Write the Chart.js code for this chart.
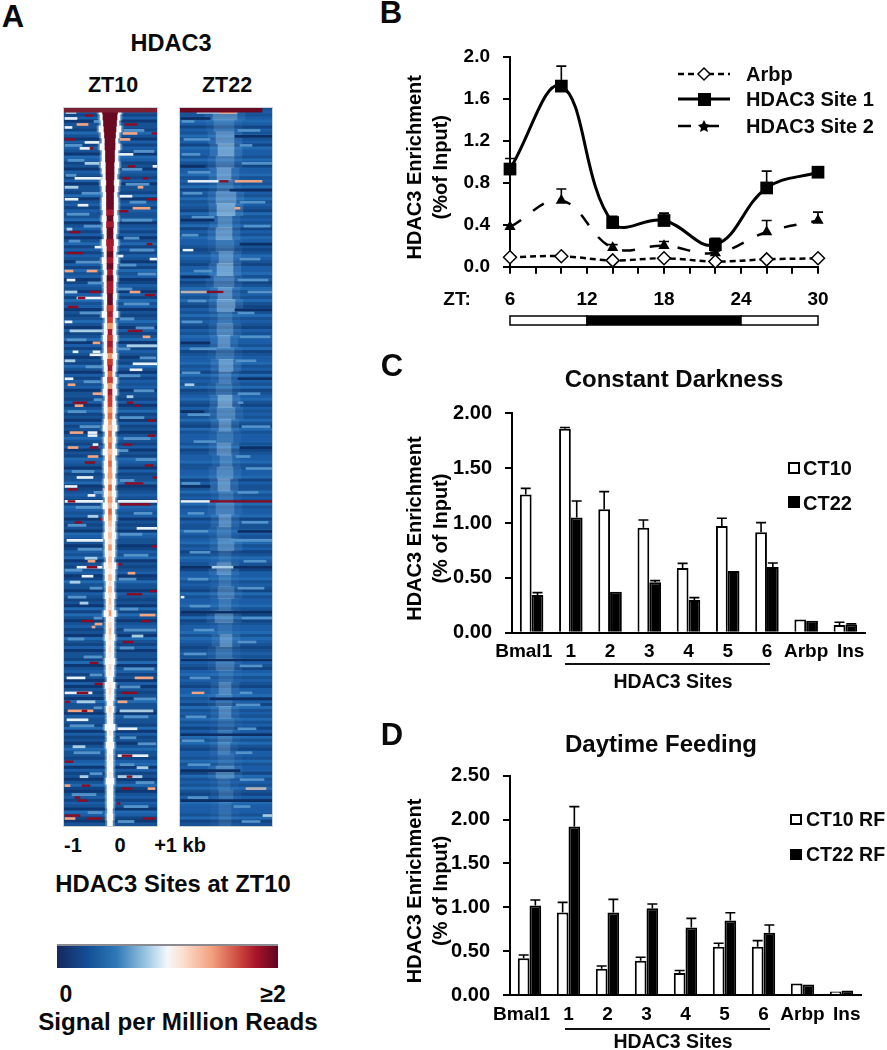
<!DOCTYPE html>
<html><head><meta charset="utf-8">
<script src="https://cdn.jsdelivr.net/npm/chart.js@4"></script>
<style>
html,body{margin:0;padding:0;background:#fff;width:887px;height:1050px;overflow:hidden}
canvas{position:absolute;display:block}
.t{position:absolute;font-family:"Liberation Sans",Arial,sans-serif;font-weight:bold;color:#0a0a0a;white-space:nowrap;transform:translate(-50%,-50%);line-height:1}
.l{transform:translate(0,-50%)}
.box{position:absolute;box-sizing:border-box;border:2px solid #000}
.rule{position:absolute;height:2px;background:#111}
#heatA,#heatB{background:#1c5ea6;filter:blur(.7px);outline:1px solid #ccd2da}
</style></head><body>
<canvas id="heatA" style="left:64px;top:108px"></canvas>
<canvas id="heatB" style="left:180px;top:108px"></canvas>
<canvas id="chartB" style="left:400px;top:30px"></canvas>
<canvas id="chartC" style="left:400px;top:360px"></canvas>
<canvas id="chartD" style="left:400px;top:730px"></canvas>

<div class="t" style="left:13px;top:16px;font-size:31px">A</div>
<div class="t" style="left:391px;top:12px;font-size:31px">B</div>
<div class="t" style="left:392px;top:365px;font-size:31px">C</div>
<div class="t" style="left:392px;top:734px;font-size:31px">D</div>
<div class="t" style="left:171px;top:44px;font-size:23.5px">HDAC3</div>
<div class="t" style="left:113px;top:86px;font-size:21.5px">ZT10</div>
<div class="t" style="left:227px;top:86px;font-size:21.5px">ZT22</div>
<div class="t" style="left:73px;top:845px;font-size:20px">-1</div>
<div class="t" style="left:120px;top:845px;font-size:20px">0</div>
<div class="t" style="left:180px;top:845px;font-size:20px">+1 kb</div>
<div class="t" style="left:173px;top:884px;font-size:23.8px">HDAC3 Sites at ZT10</div>
<div style="position:absolute;left:57px;top:944px;width:221px;height:24px;box-sizing:border-box;border-top:2px solid #8a8a90;background:linear-gradient(90deg,#15295f 0%,#134f96 14%,#2f79b7 27%,#a9d0e5 42%,#f4f8fb 50%,#fbdfcf 57%,#f2a17e 70%,#c9433c 83%,#a8152a 90%,#5f0420 100%)"></div>
<div class="t" style="left:66px;top:994px;font-size:23px">0</div>
<div class="t" style="left:273px;top:994px;font-size:23px">≥2</div>
<div class="t" style="left:178px;top:1022px;font-size:24.2px">Signal per Million Reads</div>

<div class="t" style="left:457px;top:298px;font-size:19px">ZT:</div>
<svg style="position:absolute;left:676px;top:60px" width="58" height="80">
  <line x1="2" y1="14" x2="54" y2="14" stroke="#000" stroke-width="2.5" stroke-dasharray="6 4"/>
  <polygon points="28,8 34,14 28,20 22,14" fill="#fff" stroke="#000" stroke-width="1.5"/>
  <line x1="2" y1="39" x2="54" y2="39" stroke="#000" stroke-width="3"/>
  <rect x="22" y="33" width="13" height="13" fill="#000"/>
  <line x1="2" y1="66" x2="54" y2="66" stroke="#000" stroke-width="2.5" stroke-dasharray="13 15"/>
  <polygon points="28,60 30,64 34,65 31,68 32,72 28,70 24,72 25,68 22,65 26,64" fill="#000"/>
</svg>
<div class="t l" style="left:746px;top:74px;font-size:20px">Arbp</div>
<div class="t l" style="left:746px;top:99px;font-size:20px">HDAC3 Site 1</div>
<div class="t l" style="left:746px;top:126px;font-size:20px">HDAC3 Site 2</div>

<div class="t" style="left:674px;top:379px;font-size:24px">Constant Darkness</div>
<div class="box" style="left:788px;top:462px;width:12px;height:12px;background:#fff"></div>
<div class="t l" style="left:803px;top:468px;font-size:20px">CT10</div>
<div class="box" style="left:788px;top:496px;width:12px;height:12px;background:#000"></div>
<div class="t l" style="left:803px;top:503px;font-size:20px">CT22</div>
<div class="rule" style="left:565px;top:663px;width:205px"></div>
<div class="t" style="left:673px;top:682px;font-size:19.5px">HDAC3 Sites</div>

<div class="t" style="left:661px;top:744px;font-size:24px">Daytime Feeding</div>
<div class="box" style="left:790px;top:814px;width:12px;height:11px;background:#fff"></div>
<div class="t l" style="left:806px;top:820px;font-size:19.5px">CT10 RF</div>
<div class="box" style="left:790px;top:849px;width:12px;height:11px;background:#000"></div>
<div class="t l" style="left:806px;top:855px;font-size:19.5px">CT22 RF</div>
<div class="rule" style="left:565px;top:1028px;width:205px"></div>
<div class="t" style="left:673px;top:1042px;font-size:19.5px">HDAC3 Sites</div>

<script>
// ---------- Panel B values ----------
const zt = [6, 10, 14, 18, 22, 26, 30];
const arbpB = [0.09, 0.10, 0.06, 0.08, 0.05, 0.07, 0.08];
const site1B = [0.93, 1.72, 0.42, 0.44, 0.21, 0.75, 0.90];
const site1BTop = [1.03, 1.91, 0.48, 0.51, 0.27, 0.91, 0.95];
const site2B = [0.38, 0.63, 0.18, 0.20, 0.13, 0.33, 0.44];
const site2BTop = [0.38, 0.74, 0.21, 0.24, 0.15, 0.44, 0.52];
const lightDark = [[6, 12, '#fff'], [12, 24, '#000'], [24, 30, '#fff']];

// ---------- Panels C and D values ----------
const categories = ['Bmal1', '1', '2', '3', '4', '5', '6', 'Arbp', 'Ins'];
const ct10 = [1.26, 1.86, 1.125, 0.957, 0.59, 0.973, 0.915, 0.12, 0.07];
const ct10Top = [1.316, 1.87, 1.286, 1.027, 0.632, 1.043, 1.003, 0.12, 0.095];
const ct22 = [0.343, 1.05, 0.374, 0.46, 0.298, 0.562, 0.60, 0.11, 0.075];
const ct22Top = [0.365, 1.20, 0.374, 0.475, 0.32, 0.562, 0.635, 0.11, 0.08];
const ct10rf = [0.42, 0.94, 0.30, 0.39, 0.25, 0.55, 0.55, 0.13, 0.04];
const ct10rfTop = [0.456, 1.056, 0.33, 0.43, 0.28, 0.59, 0.62, 0.13, 0.04];
const ct22rf = [1.02, 1.92, 0.94, 0.99, 0.77, 0.85, 0.71, 0.12, 0.05];
const ct22rfTop = [1.083, 2.147, 1.09, 1.037, 0.874, 0.938, 0.798, 0.12, 0.05];

// ---------- Panel A: heat map read as rows (3 px) and bins (about 1 px) ----------
const zt10Shade = [
'231302214203132043120321','302214023132240231302413','132031423013203142302124','203124031320214203132302',
'213024120312024213021432','031224012320143230212043','220132402123014220321204','142023120421302214023120',
'302120422103221403120242','213403120241023132043102'];
const zt22Shade = [
'232343132423143324213342','324132423214232413243321','243213342312423242132423','213243324123342314232412',
'342132324214233324123342','233413224231423341322432','342312432213342321423342','314123342432123243213423',
'213342314232423132424213','324233142324213243332412'];
const zt10HaloHalf = [11,10,9,11,9,8,10,8,8,9, 8,7,9,8,7,8,8,7,8,7, 7,6,8,7,6,8,7,6,7,6, 6,7,6,6,8,5,6,6,7,6,
  6,7,6,6,5,7,6,7,5,6, 6,5,6,7,5,6,5,7,5,6, 6,5,6,5,6,5,7,5,6,5, 5,6,5,5,5,4,6,5,5,4,
  4,5,4,4,6,4,4,4,5,4, 4,4,5,4,4,3,5,4,4,3, 4,3,3,5,3,3,4,3,3,3, 3,3,4,3,3,3,3,2.5,3,2.5];
const zt10CoreHalf = [7.5,7,6.5,6,5.5,5,5,4.5,4.5,4, 4,4,3.5,4,3.5,3.5,3.5,3.5,3,3.5, 3,3,3.5,3,3,3,3,2.5,3,3, 3,2.5,2.5,3,2.5,2.5,2.5,2,2.5,2.5,
  2.5,2,2.5,2,2,2.5,2,2,2,2, 2,2,1.5,2,1.5,2,1.5,2,1.5,1.5, 1.5,2,1.5,1.5,1.5,2,1.5,1.5,1.5,1.5, 1.5,1.5,1.5,1.5,1.5,1.5,1.5,1,1.5,1,
  1.5,1,1,1.5,1,1,1.5,1,1,1, 1,1,1,1,1,1,1,1,1,1, 1,1,1,1,1,1,1,1,1,1, 1,1,1,1,1,1,1,1,1,1];
const zt10CoreLevel = '9999999999999999'+'98989988989898899'+'78758787578675877'+'5654656456554645465'+'43435343243434352343'+'2321320232132'+'10201021020100'+'00100000000000';
const zt10Streaks = [
[1,2,12,'p'],[2,21,29,'r'],[3,1,13,'w'],[5,13,24,'o'],[6,1,8,'w'],[5,61,73,'r'],[8,59,73,'o'],[8,36,43,'r'],[8,88,93,'r'],[10,1,11,'r'],[10,56,66,'o'],[11,21,35,'w'],[13,16,26,'w'],[13,26,29,'r'],[15,54,69,'w'],[18,21,35,'p'],[19,64,71,'r'],[19,89,93,'w'],[21,38,43,'o'],[23,11,39,'w'],[23,59,66,'r'],[23,79,84,'r'],[26,1,14,'p'],[26,74,79,'o'],[29,56,68,'w'],[30,1,14,'w'],[30,83,93,'r'],[32,14,24,'w'],[33,69,86,'o'],[34,53,64,'r'],[40,3,8,'p'],[41,6,16,'r'],[40,38,41,'o'],[46,31,39,'w'],[45,83,88,'r'],[48,3,19,'r'],[49,53,59,'w'],[50,86,93,'w'],[54,1,9,'o'],[54,23,33,'o'],[57,3,11,'w'],
[61,1,13,'p'],[61,26,36,'r'],[61,66,76,'o'],[62,81,91,'r'],[63,13,39,'w'],[63,14,21,'r'],[66,4,14,'r'],[71,1,8,'w'],[74,6,39,'p'],[74,64,78,'r'],[76,79,86,'o'],[78,29,36,'o'],[79,63,93,'p'],[81,9,14,'w'],[81,29,36,'w'],[82,26,39,'w'],[84,1,11,'p'],[85,69,93,'w'],[87,66,78,'w'],[90,1,9,'w'],[92,4,11,'o'],[95,29,38,'o'],[96,63,69,'p'],[98,9,23,'r'],[98,63,69,'r'],[99,71,76,'r'],[99,11,19,'o'],[104,84,91,'r'],[108,24,33,'w'],[109,24,33,'w'],[108,6,19,'o'],[109,84,91,'r'],[112,59,68,'r'],[112,29,34,'w'],[113,4,14,'o'],[113,26,34,'r'],[116,24,34,'o'],[118,21,31,'r'],[119,81,89,'r'],
[123,13,29,'w'],[123,89,93,'r'],[125,61,79,'r'],[126,1,13,'w'],[127,4,13,'r'],[127,39,43,'o'],[129,24,31,'w'],[131,1,39,'w'],[131,4,11,'r'],[131,54,93,'w'],[132,56,86,'r'],[137,36,43,'r'],[138,11,18,'r'],[136,24,34,'p'],[140,73,93,'w'],[144,3,39,'w'],[146,88,93,'r'],[150,21,33,'p'],[151,24,31,'o'],[152,51,58,'r'],[153,13,38,'w'],[153,23,33,'r'],[155,64,71,'o'],[156,18,29,'w'],[158,6,16,'p'],[161,86,93,'r'],[162,63,78,'r'],[165,16,24,'p'],[169,76,91,'o'],[171,18,29,'r'],[171,78,86,'r'],[172,31,38,'o'],[173,28,31,'o'],[176,68,79,'p'],[178,59,69,'r'],
[185,26,34,'r'],[190,3,21,'w'],[190,71,89,'o'],[192,31,41,'r'],[195,1,28,'w'],[195,13,24,'r'],[195,58,73,'r'],[198,1,6,'r'],[198,13,31,'p'],[198,54,63,'o'],[201,4,29,'o'],[201,18,23,'r'],[201,56,89,'p'],[204,3,24,'w'],[207,54,73,'w'],[213,9,21,'p'],[216,54,84,'w'],[216,58,68,'r'],[218,1,9,'r'],[220,73,84,'p'],[223,54,78,'p'],[223,63,68,'r'],[223,16,24,'p'],[226,1,6,'o'],[226,18,26,'r'],[227,58,68,'r'],[227,84,91,'o'],[230,11,16,'r'],[231,14,23,'r'],[232,53,56,'r'],[236,1,16,'r'],[237,1,11,'o'],[237,23,38,'r'],[237,79,91,'r'],
[4,30,39,'l'],[7,60,80,'l'],[12,1,18,'l'],[14,70,90,'l'],[17,4,20,'l'],[20,58,78,'l'],[22,2,12,'l'],[25,62,85,'l'],[28,18,38,'l'],[31,66,82,'l'],[35,3,25,'l'],[37,58,88,'l'],[39,20,37,'l'],[43,60,75,'l'],[44,5,16,'l'],[47,66,90,'l'],[51,12,36,'l'],[52,56,72,'l'],[55,74,92,'l'],[58,24,38,'l'],[60,54,68,'l'],[65,60,85,'l'],[68,16,36,'l'],[70,56,70,'l'],[73,72,90,'l'],[77,3,22,'l'],[80,54,66,'l'],[83,76,92,'l'],[86,22,38,'l'],[89,55,76,'l'],[91,20,36,'l'],[94,70,90,'l'],[97,30,38,'l'],[101,4,22,'l'],[103,56,80,'l'],[106,16,36,'l'],[110,60,86,'l'],[114,54,64,'l'],[117,72,92,'l'],[121,8,30,'l'],[124,56,70,'l'],[128,30,38,'l'],[133,12,36,'l'],[135,70,88,'l'],[139,4,22,'l'],[142,56,78,'l'],[147,14,38,'l'],[149,60,84,'l'],[154,1,18,'l'],[157,55,72,'l'],[160,26,38,'l'],[163,4,22,'l'],[167,56,74,'l'],[170,30,38,'l'],[174,60,92,'l'],[177,4,20,'l'],[180,56,70,'l'],[183,20,38,'l'],[187,60,90,'l'],[189,26,38,'l'],[193,56,76,'l'],[197,70,92,'l'],[200,30,38,'l'],[203,60,84,'l'],[206,6,30,'l'],[210,56,72,'l'],[212,74,92,'l'],[215,10,36,'l'],[219,56,70,'l'],[222,26,38,'l'],[225,72,90,'l'],[229,8,32,'l'],[233,60,84,'l'],[235,24,38,'l'],[238,54,70,'l']
];
const zt22Streaks = [
[1,17,57,'p'],[1,40,55,'o'],[4,2,14,'l'],[7,58,80,'l'],[10,4,30,'l'],[12,60,72,'l'],[15,2,20,'l'],[18,62,92,'l'],[21,8,30,'l'],[24,8,38,'w'],[24,40,48,'r'],[24,55,82,'o'],[28,3,22,'l'],[31,60,85,'l'],[33,55,60,'o'],[36,12,34,'l'],[39,64,90,'l'],[42,2,18,'l'],[47,3,13,'w'],[50,60,80,'l'],[54,14,32,'l'],[57,58,88,'l'],[61,1,27,'g'],[61,27,43,'r'],[61,68,92,'l'],[64,8,26,'l'],[68,58,74,'l'],[71,2,22,'l'],[76,60,90,'l'],[80,10,36,'l'],[84,56,76,'l'],[88,2,20,'l'],[92,5,14,'p'],[95,58,80,'l'],[98,58,63,'l'],[102,8,30,'l'],[106,62,90,'l'],[111,14,36,'l'],[116,56,70,'l'],[120,66,92,'l'],
[125,2,20,'l'],[128,58,78,'l'],[131,1,30,'w'],[131,30,92,'r'],[135,8,24,'l'],[138,62,88,'l'],[141,4,28,'l'],[144,50,92,'l'],[148,10,30,'l'],[151,64,86,'l'],[153,1,92,'d'],[153,32,53,'p'],[157,8,28,'l'],[160,58,84,'l'],[163,1,4,'w'],[166,10,30,'l'],[170,62,92,'l'],[174,14,34,'l'],[178,58,76,'l'],[182,4,26,'l'],[186,60,82,'l'],[190,10,30,'l'],[195,12,24,'o'],[195,60,72,'l'],[199,56,80,'l'],[203,6,26,'l'],[207,58,76,'l'],[211,2,24,'l'],[215,56,72,'l'],[219,8,30,'l'],[224,60,84,'l'],[227,66,86,'g'],[230,8,28,'l'],[233,54,70,'l'],[236,83,92,'p'],[238,62,80,'l'],
[3,1,30,'d'],[9,55,92,'d'],[19,1,25,'d'],[27,50,92,'d'],[37,1,34,'d'],[45,60,92,'d'],[56,1,30,'d'],[67,55,92,'d'],[78,1,30,'d'],[90,58,92,'d'],[101,1,24,'d'],[113,60,92,'d'],[126,1,30,'d'],[141,58,92,'d'],[168,1,92,'d'],[184,1,92,'d'],[197,30,92,'d'],[209,1,92,'d'],[221,1,60,'d'],[231,1,92,'d']
];
const zt22HaloCentre = [45,44,45,46,45,44,45,46,46,45, 44,45,46,45,44,45,46,45,45,44, 45,46,45,44,45,46,45,45,44,46, 45,44,46,45,45,44,46,45,44,45, 46,45,44,45,46,44,45,46,45,44, 45,46,45,44,46,45,44,46,45,45];
const zt22HaloHalf = [12,10,9,8,9,7,8,10,9,7, 8,9,7,8,10,7,9,7,8,6, 9,7,6,8,7,9,6,8,7,6, 8,6,7,9,6,7,8,6,7,6, 8,6,9,7,6,8,9,7,6,8, 6,8,7,6,8,9,6,7,6,6];
const zt22HaloLevel = [5,3,6,8,4,7,3,6,9,5, 7,3,6,8,4,6,7,3,5,6, 3,7,4,3,8,5,6,3,6,4, 5,7,3,4,6,3,5,2,6,3, 4,3,5,2,6,3,4,2,5,3, 5,2,3,4,2,5,2,3,2,2];

const blues = ['#0d3873', '#124584', '#175295', '#1b5da6', '#2169b0', '#2e76ba', '#4288c5'];
const streakColor = {w:'#e9f2f8', p:'#a9cde4', l:'#5393ca', r:'#8a0d26', o:'#f2a583', g:'#b8b4b6', d:'#0c2f66'};
const coreColor = ['#ffffff', '#fff6f0', '#fdeadf', '#fbd9c4', '#f7bd99', '#f09a6b', '#e0663f', '#cc3b32', '#a51a2e', '#6a0a22'];

function floatBars(rows, thick) {
  return {data: rows.map(r => ({x: [r[1], r[2]], y: r[0]})), backgroundColor: rows.map(r => r[3]), barThickness: thick, grouped: false, borderWidth: 0};
}
function heatChart(id, w, layers, topColor, topEnd) {
  const el = document.getElementById(id);
  el.width = w; el.height = 718;
  const datasets = layers.map((l, i) => Object.assign(l, {order: layers.length - i}));
  datasets.push(Object.assign(floatBars([[0.2, 0, topEnd, topColor]], 4), {order: 0}));
  return new Chart(el, {type: 'bar', data: {datasets}, options: {
    indexAxis: 'y', responsive: false, animation: false, events: [],
    plugins: {legend: {display: false}, tooltip: {enabled: false}},
    layout: {padding: 0},
    scales: {x: {type: 'linear', min: 0, max: w, offset: false, display: false}, y: {type: 'linear', min: -0.5, max: 239.5, offset: false, reverse: true, display: false}}
  }});
}
const rowsOf = shade => shade.join('').split('').map((d, i) => [i, 0, 93, blues[+d]]);
const pick = (list, codes) => list.filter(s => codes.includes(s[3])).map(s => [s[0], s[1], s[2], streakColor[s[3]]]);
const centre10 = 46;
const layersA = [
  floatBars(rowsOf(zt10Shade), 3.2),
  floatBars(pick(zt10Streaks, 'lp'), 2.2),
  floatBars(pick(zt10Streaks, 'wo'), 2),
  floatBars(pick(zt10Streaks, 'r'), 1.8),
  floatBars(zt10HaloHalf.map((h, i) => [2 * i + 0.5, centre10 - h - 2, centre10 + h + 2, 'rgba(150,200,235,.45)']), 6),
  floatBars(zt10HaloHalf.map((h, i) => [2 * i + 0.5, centre10 - h, centre10 + h, '#f6fafc']), 6),
  floatBars(zt10CoreHalf.map((h, i) => [2 * i + 0.5, centre10 - h, centre10 + h, coreColor[+zt10CoreLevel[i]]]), 6)
];
const layersB = [
  floatBars(rowsOf(zt22Shade), 3.2),
  floatBars(zt22HaloHalf.map((h, i) => [4 * i + 1.5, zt22HaloCentre[i] - h - 8, zt22HaloCentre[i] + h + 8, 'rgba(120,180,230,' + zt22HaloLevel[i] * 0.028 + ')']), 12),
  floatBars(zt22HaloHalf.map((h, i) => [4 * i + 1.5, zt22HaloCentre[i] - h, zt22HaloCentre[i] + h, 'rgba(190,225,245,' + zt22HaloLevel[i] * 0.055 + ')']), 12),
  floatBars(pick(zt22Streaks, 'ldpg'), 2),
  floatBars(pick(zt22Streaks, 'wo'), 1.8),
  floatBars(pick(zt22Streaks, 'r'), 1.6)
];
heatChart('heatA', 93, layersA, '#7d1f33', 93);
heatChart('heatB', 92, layersB, '#6a0a22', 82);

// ---------- shared helpers ----------
const FONT = '"Liberation Sans", Arial, sans-serif';
const errorBars = {
  id: 'errorBars',
  afterDatasetsDraw(chart) {
    const ctx = chart.ctx, y = chart.scales.y;
    chart.data.datasets.forEach((ds, i) => {
      if (!ds.errTop) return;
      chart.getDatasetMeta(i).data.forEach((el, j) => {
        const yTop = y.getPixelForValue(ds.errTop[j]);
        if (el.y - yTop < 0.5) return;
        ctx.save(); ctx.strokeStyle = '#000'; ctx.lineWidth = 1.6; ctx.setLineDash([]);
        ctx.beginPath(); ctx.moveTo(el.x, el.y); ctx.lineTo(el.x, yTop);
        ctx.moveTo(el.x - ds.capHalf, yTop); ctx.lineTo(el.x + ds.capHalf, yTop); ctx.stroke(); ctx.restore();
      });
    });
  }
};
function yAxis(max, step, digits, lines, width, tickSize, pad) {
  return {
    min: 0, max, afterFit: s => { s.width = width; },
    ticks: {stepSize: step, color: '#000', font: {family: FONT, weight: 'bold', size: tickSize}, padding: pad, callback: v => (+v).toFixed(digits)},
    grid: {drawOnChartArea: false, color: '#000', lineWidth: 2, tickLength: 7},
    border: {color: '#000', width: 2},
    title: {display: true, text: lines, color: '#000', font: {family: FONT, weight: 'bold', size: 20, lineHeight: 1.28}, padding: {top: 0, bottom: 0}}
  };
}
function size(id, w, h) { const c = document.getElementById(id); c.width = w; c.height = h; return c; }

// ---------- Panel B ----------
const dayBar = {
  id: 'dayBar',
  afterDraw(chart) {
    const ctx = chart.ctx, x = chart.scales.x;
    lightDark.forEach(seg => {
      const a = x.getPixelForValue(seg[0]), b = x.getPixelForValue(seg[1]);
      ctx.fillStyle = seg[2]; ctx.fillRect(a, 286, b - a, 9);
      ctx.strokeStyle = '#000'; ctx.lineWidth = 1.5; ctx.strokeRect(a, 286, b - a, 9);
    });
  }
};
new Chart(size('chartB', 487, 310), {
  type: 'line',
  data: {datasets: [
    {label: 'HDAC3 Site 1', data: zt.map((v, i) => ({x: v, y: site1B[i]})), errTop: site1BTop, capHalf: 5, borderColor: '#000', borderWidth: 3, tension: 0.4, pointStyle: 'rect', pointRadius: 9, pointBackgroundColor: '#000', pointBorderWidth: 0, clip: false, order: 1},
    {label: 'HDAC3 Site 2', data: zt.map((v, i) => ({x: v, y: site2B[i]})), errTop: site2BTop, capHalf: 5, borderColor: '#000', borderWidth: 2.5, borderDash: [13, 15], tension: 0.4, pointStyle: 'triangle', pointRadius: 6.5, pointBackgroundColor: '#000', pointBorderWidth: 0, clip: false, order: 2},
    {label: 'Arbp', data: zt.map((v, i) => ({x: v, y: arbpB[i]})), borderColor: '#000', borderWidth: 2.5, borderDash: [6, 4], tension: 0.4, pointStyle: 'rectRot', pointRadius: 6.5, pointBackgroundColor: '#fff', pointBorderColor: '#000', pointBorderWidth: 1.5, clip: false, order: 0}
  ]},
  options: {
    responsive: false, animation: false, events: [],
    plugins: {legend: {display: false}, tooltip: {enabled: false}},
    layout: {autoPadding: false, padding: {top: 26.7, right: 69, left: 3, bottom: 0}},
    scales: {
      x: {type: 'linear', min: 6, max: 30, afterFit: s => { s.height = 73.3; },
        afterBuildTicks: s => { s.ticks = [6, 8, 10, 12, 14, 16, 18, 20, 22, 24, 26, 28, 30].map(value => ({value})); },
        ticks: {autoSkip: false, maxRotation: 0, color: '#000', font: {family: FONT, weight: 'bold', size: 19}, padding: 15, callback: v => (v % 6 === 0 ? String(v) : '')},
        grid: {drawOnChartArea: false, color: '#000', lineWidth: 2, tickLength: 7}, border: {color: '#000', width: 2}},
      y: yAxis(2, 0.4, 1, ['HDAC3 Enrichment  ', '(%of Input)  '], 107, 19, 13)
    }
  },
  plugins: [errorBars, dayBar]
});

// ---------- Panels C and D ----------
const shiftLabel = {Bmal1: 'Bmal1   ', Ins: '  Ins'};
function barChart(id, h, padTop, padRight, xH, yW, maxV, label1, v1, t1, label2, v2, t2) {
  return new Chart(size(id, 487, h), {
    type: 'bar',
    data: {labels: categories, datasets: [
      {label: label1, data: v1, errTop: t1, capHalf: 5, backgroundColor: '#fff', borderColor: '#000', borderWidth: 2, categoryPercentage: 0.6, barPercentage: 1},
      {label: label2, data: v2, errTop: t2, capHalf: 5, backgroundColor: '#000', borderColor: '#000', borderWidth: 2, categoryPercentage: 0.6, barPercentage: 1}
    ]},
    options: {
      responsive: false, animation: false, events: [],
      plugins: {legend: {display: false}, tooltip: {enabled: false}},
      layout: {autoPadding: false, padding: {top: padTop, right: padRight, left: 3, bottom: 0}},
      scales: {
        x: {afterFit: s => { s.height = xH; },
          ticks: {autoSkip: false, maxRotation: 0, minRotation: 0, color: '#000', font: {family: FONT, weight: 'bold', size: 19}, padding: 8,
            callback(v) { const c = this.getLabelForValue(v); return shiftLabel[c] || c; }},
          grid: {display: false, drawTicks: false}, border: {color: '#000', width: 2}},
        y: yAxis(maxV, 0.5, 2, ['HDAC3 Enrichment  ', '(% of Input)  '], yW, 20, 13)
      }
    },
    plugins: [errorBars]
  });
}
barChart('chartC', 330, 53.3, 22, 57.3, 109, 2, 'CT10', ct10, ct10Top, 'CT22', ct22, ct22Top);
barChart('chartD', 320, 45.7, 26, 55, 107, 2.5, 'CT10 RF', ct10rf, ct10rfTop, 'CT22 RF', ct22rf, ct22rfTop);
</script>
</body></html>
